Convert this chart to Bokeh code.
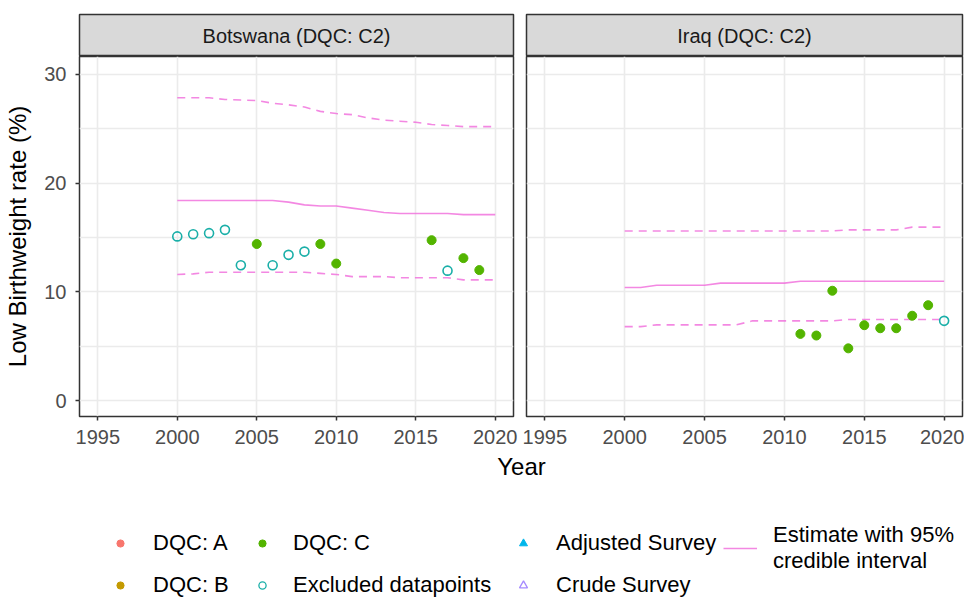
from bokeh.plotting import figure
from bokeh.models import Range1d, FixedTicker, Label, Legend, LegendItem, ColumnDataSource
from bokeh.layouts import column, row
from bokeh.embed import file_html
from bokeh.resources import INLINE

# ---------------- data ----------------
years = [2000, 2001, 2002, 2003, 2004, 2005, 2006, 2007, 2008, 2009, 2010,
         2011, 2012, 2013, 2014, 2015, 2016, 2017, 2018, 2019, 2020]

bw_median = [18.4, 18.4, 18.4, 18.4, 18.4, 18.4, 18.4, 18.25, 18.0, 17.9, 17.9,
             17.7, 17.5, 17.3, 17.2, 17.2, 17.2, 17.2, 17.1, 17.1, 17.1]
bw_upper = [27.85, 27.85, 27.85, 27.7, 27.65, 27.6, 27.35, 27.2, 27.0, 26.6, 26.4,
            26.3, 26.0, 25.8, 25.7, 25.6, 25.4, 25.3, 25.2, 25.2, 25.2]
bw_lower = [11.6, 11.65, 11.8, 11.8, 11.8, 11.8, 11.8, 11.8, 11.8, 11.7, 11.6,
            11.4, 11.4, 11.4, 11.3, 11.3, 11.3, 11.3, 11.1, 11.1, 11.1]
bw_c_years = [2005, 2009, 2010, 2016, 2018, 2019]
bw_c_vals = [14.4, 14.4, 12.6, 14.75, 13.1, 12.0]
bw_ex_years = [2000, 2001, 2002, 2003, 2004, 2006, 2007, 2008, 2017]
bw_ex_vals = [15.1, 15.3, 15.4, 15.7, 12.45, 12.45, 13.4, 13.7, 11.95]

iq_median = [10.4, 10.4, 10.6, 10.6, 10.6, 10.6, 10.8, 10.8, 10.8, 10.8, 10.8,
             10.97, 10.97, 10.97, 10.97, 10.97, 10.97, 10.97, 10.97, 10.97, 10.97]
iq_upper = [15.6, 15.6, 15.6, 15.6, 15.6, 15.6, 15.6, 15.6, 15.6, 15.6, 15.6,
            15.6, 15.6, 15.6, 15.7, 15.7, 15.7, 15.7, 15.95, 15.95, 15.95]
iq_lower = [6.8, 6.8, 6.96, 6.96, 6.96, 6.96, 6.96, 6.96, 7.33, 7.33, 7.33,
            7.33, 7.33, 7.33, 7.45, 7.45, 7.45, 7.45, 7.45, 7.45, 7.45]
iq_c_years = [2011, 2012, 2013, 2014, 2015, 2016, 2017, 2018, 2019]
iq_c_vals = [6.13, 5.98, 10.1, 4.8, 6.93, 6.65, 6.65, 7.8, 8.77]
iq_ex_years = [2020]
iq_ex_vals = [7.33]

x_ticks = [1995, 2000, 2005, 2010, 2015, 2020]
y_ticks = [0, 10, 20, 30]
y_minor = [5, 15, 25]

panel_titles = ["Botswana (DQC: C2)", "Iraq (DQC: C2)"]
legend_labels = ["DQC: A", "DQC: B", "DQC: C", "Excluded datapoints",
                 "Adjusted Survey", "Crude Survey", "Estimate with 95%\ncredible interval"]

# ---------------- style ----------------
FONT = "Liberation Sans"
COL_A = "#F8766D"
COL_B = "#C49A00"
COL_C = "#53B400"
COL_EX = "#1AAFA8"
COL_ADJ = "#00B6EB"
COL_CRUDE = "#A58AFF"
COL_EST = "#F06ADB"
GRID = "#EBEBEB"
BORDER = "#333333"

X_RANGE = (1993.85, 2021.15)
Y_RANGE = (-1.47, 31.65)


def make_strip(text, width, left, right):
    s = figure(width=width, height=56, x_range=Range1d(0, 1), y_range=Range1d(0, 1),
               min_border_top=14, min_border_bottom=0, min_border_left=left,
               min_border_right=right, x_axis_location=None, y_axis_location=None,
               toolbar_location=None, output_backend="svg")
    s.grid.visible = False
    s.background_fill_color = "#D9D9D9"
    s.border_fill_color = "white"
    s.outline_line_color = BORDER
    s.outline_line_width = 1.5
    s.add_layout(Label(x=0.5, y=0.5, text=text, text_align="center",
                       text_baseline="middle", text_font=FONT,
                       text_font_size="20px", text_color="#1A1A1A"))
    return s


def make_panel(width, left, right, show_y, median, upper, lower,
               c_years, c_vals, ex_years, ex_vals):
    p = figure(width=width, height=396, x_range=Range1d(*X_RANGE),
               y_range=Range1d(*Y_RANGE), min_border_top=0, min_border_bottom=36,
               min_border_left=left, min_border_right=right,
               y_axis_location="left" if show_y else None,
               toolbar_location=None, output_backend="svg")
    p.background_fill_color = "white"
    p.border_fill_color = "white"
    p.outline_line_color = BORDER
    p.outline_line_width = 1.5

    p.xaxis.ticker = FixedTicker(ticks=x_ticks)
    p.xgrid.ticker = FixedTicker(ticks=x_ticks)
    p.ygrid.ticker = FixedTicker(ticks=y_ticks, minor_ticks=y_minor)
    p.xgrid.grid_line_color = GRID
    p.xgrid.grid_line_width = 1.6
    p.ygrid.grid_line_color = GRID
    p.ygrid.grid_line_width = 1.6
    p.ygrid.minor_grid_line_color = GRID
    p.ygrid.minor_grid_line_width = 1.3

    axes = [p.xaxis[0]]
    if show_y:
        p.yaxis.ticker = FixedTicker(ticks=y_ticks)
        p.yaxis.axis_label = "Low Birthweight rate (%)"
        p.yaxis.axis_label_text_font = FONT
        p.yaxis.axis_label_text_font_size = "24px"
        p.yaxis.axis_label_text_font_style = "normal"
        p.yaxis.axis_label_text_color = "black"
        p.yaxis.axis_label_standoff = 10
        axes.append(p.yaxis[0])
    for ax in axes:
        ax.axis_line_color = None
        ax.major_tick_line_color = BORDER
        ax.major_tick_line_width = 1.5
        ax.major_tick_out = 4
        ax.major_tick_in = 0
        ax.minor_tick_line_color = None
        ax.major_label_text_font = FONT
        ax.major_label_text_font_size = "20px"
        ax.major_label_text_color = "#4D4D4D"
    p.xaxis.major_label_standoff = 9
    if show_y:
        p.yaxis.major_label_standoff = 9

    p.line(years, upper, line_color=COL_EST, line_width=1.6, line_alpha=0.8,
           line_dash="8 6")
    p.line(years, lower, line_color=COL_EST, line_width=1.6, line_alpha=0.8,
           line_dash="8 6")
    p.line(years, median, line_color=COL_EST, line_width=1.6, line_alpha=0.8)
    p.scatter(ex_years, ex_vals, marker="circle", size=9, fill_color=None,
              line_color=COL_EX, line_width=1.6)
    p.scatter(c_years, c_vals, marker="circle", size=9, fill_color=COL_C,
              line_color=COL_C)
    return p


LW, LL, LR = 519, 79, 6
RW, RL, RR = 445, 7, 2

strip_l = make_strip(panel_titles[0], LW, LL, LR)
strip_r = make_strip(panel_titles[1], RW, RL, RR)
panel_l = make_panel(LW, LL, LR, True, bw_median, bw_upper, bw_lower,
                     bw_c_years, bw_c_vals, bw_ex_years, bw_ex_vals)
panel_r = make_panel(RW, RL, RR, False, iq_median, iq_upper, iq_lower,
                     iq_c_years, iq_c_vals, iq_ex_years, iq_ex_vals)

# ---------------- legend area ----------------
LEG_W, LEG_H = 964, 146
lf = figure(width=LEG_W, height=LEG_H, x_range=Range1d(0, LEG_W), y_range=Range1d(0, LEG_H),
            min_border_left=0, min_border_right=0, min_border_top=0, min_border_bottom=0,
            x_axis_location=None, y_axis_location=None, toolbar_location=None,
            output_backend="svg")
lf.grid.visible = False
lf.outline_line_color = None
lf.background_fill_color = "white"
lf.border_fill_color = "white"

lf.add_layout(Label(x=521, y=132, text="Year", text_align="center",
                    text_baseline="middle", text_font=FONT, text_font_size="24px",
                    text_color="black"))

NAN = float("nan")


def key_source():
    # a single missing value: nothing is drawn in the plot, but the legend key is
    return ColumnDataSource(data=dict(x=[NAN], y=[NAN]))


rA = lf.scatter("x", "y", source=key_source(), marker="circle", size=6, color=COL_A)
rB = lf.scatter("x", "y", source=key_source(), marker="circle", size=6, color=COL_B)
rC = lf.scatter("x", "y", source=key_source(), marker="circle", size=6, color=COL_C)
rEx = lf.scatter("x", "y", source=key_source(), marker="circle", size=6, fill_color=None,
                 line_color=COL_EX, line_width=1.3)
rAdj = lf.scatter("x", "y", source=key_source(), marker="triangle", size=6, color=COL_ADJ)
rCr = lf.scatter("x", "y", source=key_source(), marker="triangle", size=6, fill_color=None,
                 line_color=COL_CRUDE, line_width=1.3)
rEst = lf.line("x", "y", source=key_source(), line_color=COL_EST, line_width=1.6,
               line_alpha=0.8)


def add_legend(items, x, y, standoff, gw=18, gh=20):
    leg = Legend(items=items, location=(x, y), orientation="vertical",
                 padding=0, margin=0, spacing=16, label_height=20,
                 glyph_height=gh, glyph_width=gw, label_standoff=standoff,
                 label_text_font=FONT, label_text_font_size="22px",
                 label_text_color="black", background_fill_alpha=0,
                 border_line_color=None)
    lf.add_layout(leg)
    return leg


add_legend([LegendItem(label=legend_labels[0], renderers=[rA]),
            LegendItem(label=legend_labels[1], renderers=[rB])], 111, 0, 24)
add_legend([LegendItem(label=legend_labels[2], renderers=[rC]),
            LegendItem(label=legend_labels[3], renderers=[rEx])], 253, 0, 22)
add_legend([LegendItem(label=legend_labels[4], renderers=[rAdj]),
            LegendItem(label=legend_labels[5], renderers=[rCr])], 513, 0, 23, gw=20)
add_legend([LegendItem(label=legend_labels[6], renderers=[rEst])], 723, 24, 16,
           gw=34, gh=48)

layout = column(row(strip_l, strip_r), row(panel_l, panel_r), lf)

open("out.html", "w").write(file_html(layout, INLINE))
